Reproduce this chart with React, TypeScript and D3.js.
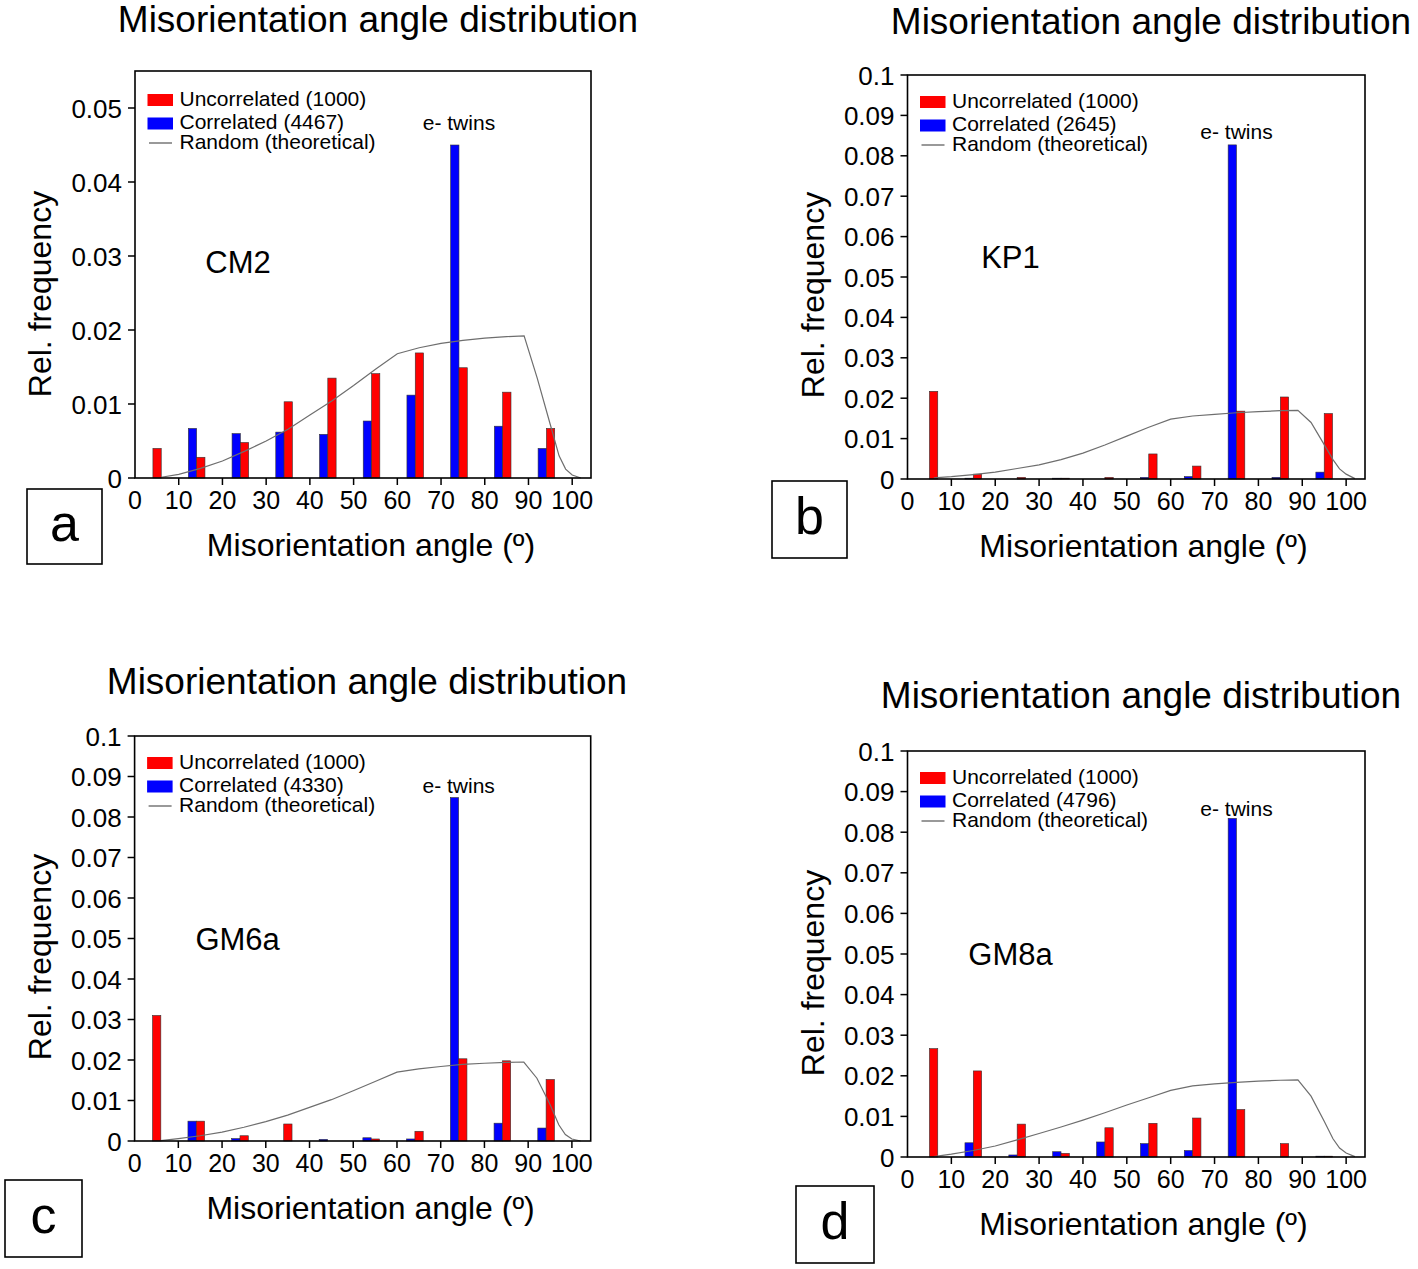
import React from 'react';
import * as d3 from 'd3';

// ---------- data ----------
const binCenters = [5, 15, 25, 35, 45, 55, 65, 75, 85, 95];
const xTickValues = [0, 10, 20, 30, 40, 50, 60, 70, 80, 90, 100];
const yTicksSmall = [0, 0.01, 0.02, 0.03, 0.04, 0.05];
const yTicksLarge = [0, 0.01, 0.02, 0.03, 0.04, 0.05, 0.06, 0.07, 0.08, 0.09, 0.1];

const panelLetters = ['a', 'b', 'c', 'd'];
const sampleNames = ['CM2', 'KP1', 'GM6a', 'GM8a'];
const uncorrelatedCounts = [1000, 1000, 1000, 1000];
const correlatedCounts = [4467, 2645, 4330, 4796];
const yMaxes = [0.055, 0.1, 0.1, 0.1];

const uncorrA = [0.004, 0.0028, 0.0048, 0.0103, 0.0135, 0.0141, 0.0169, 0.0149, 0.0116, 0.0067];
const corrA = [0, 0.0067, 0.006, 0.0062, 0.0059, 0.0077, 0.0112, 0.045, 0.007, 0.004];
const uncorrB = [0.0217, 0.0012, 0.0004, 0.0002, 0.0004, 0.0062, 0.0032, 0.0168, 0.0203, 0.0162];
const corrB = [0, 0.0002, 0, 0.0002, 0, 0.0004, 0.0006, 0.0827, 0.0004, 0.0017];
const uncorrC = [0.031, 0.0049, 0.0013, 0.0042, 0, 0.0005, 0.0024, 0.0203, 0.0198, 0.0152];
const corrC = [0, 0.0049, 0.0006, 0, 0.0004, 0.0008, 0.0005, 0.0848, 0.0044, 0.0032];
const uncorrD = [0.0267, 0.0212, 0.0081, 0.0009, 0.0072, 0.0083, 0.0096, 0.0117, 0.0033, 0.0002];
const corrD = [0, 0.0035, 0.0005, 0.0013, 0.0037, 0.0033, 0.0016, 0.0834, 0, 0.0002];

const randomAngles = [6, 10, 15, 20, 25, 30, 35, 40, 45, 50, 55, 60, 65, 70, 75, 80, 85, 89, 92, 95, 97, 98.5, 100, 102];
const randomA = [0.0001, 0.0005, 0.0013, 0.0023, 0.0036, 0.005, 0.0066, 0.0085, 0.0104, 0.0125, 0.0147, 0.0168, 0.0176, 0.0182, 0.0186, 0.0189, 0.0191, 0.0192, 0.0135, 0.0072, 0.003, 0.0012, 0.0004, 0];
const randomB = [0.0003, 0.0006, 0.0011, 0.0017, 0.0026, 0.0035, 0.0048, 0.0064, 0.0084, 0.0106, 0.0128, 0.0148, 0.0156, 0.016, 0.0164, 0.0167, 0.0169, 0.017, 0.014, 0.0085, 0.0048, 0.0025, 0.0012, 0.0001];
const randomC = [0.0001, 0.0006, 0.0013, 0.0022, 0.0034, 0.0048, 0.0064, 0.0083, 0.0102, 0.0124, 0.0147, 0.017, 0.0178, 0.0184, 0.0189, 0.0192, 0.0194, 0.0195, 0.0155, 0.009, 0.004, 0.0016, 0.0005, 0];
const randomD = [0.0001, 0.0007, 0.0016, 0.0027, 0.0042, 0.0058, 0.0074, 0.0091, 0.0109, 0.0128, 0.0146, 0.0164, 0.0175, 0.018, 0.0184, 0.0187, 0.0189, 0.019, 0.015, 0.0088, 0.0045, 0.0022, 0.001, 0.0001];

const uncorrSeries = [uncorrA, uncorrB, uncorrC, uncorrD];
const corrSeries = [corrA, corrB, corrC, corrD];
const randomSeries = [randomA, randomB, randomC, randomD];
const yTickSets = [yTicksSmall, yTicksLarge, yTicksLarge, yTicksLarge];

// ---------- layout ----------
const layouts = [
  { left: 135, right: 591, top: 71, bottom: 478, titleX: 378, titleY: 32, box: [27, 489, 75, 75], barShift: -0.9, twinGap: 15, sampleY: 202, legendDy: 2 },
  { left: 907.5, right: 1365, top: 75, bottom: 479, titleX: 1151, titleY: 34, box: [772, 481, 75, 77], barShift: 0, twinGap: 6, sampleY: 193, legendDy: 0 },
  { left: 134.6, right: 590.7, top: 736, bottom: 1141, titleX: 367, titleY: 694, box: [5, 1180, 77, 77], barShift: -0.9, twinGap: 4.5, sampleY: 214, legendDy: 0 },
  { left: 907.5, right: 1365, top: 751, bottom: 1157, titleX: 1141, titleY: 708, box: [796, 1186, 78, 77], barShift: 0, twinGap: 2.5, sampleY: 214, legendDy: 0 },
];

const FONT = '"Liberation Sans", Arial, Helvetica, sans-serif';
const RED = '#ff0000';
const BLUE = '#0000ff';
const BAR_W = 1.9;

const fmt = (v: number) => String(+v.toFixed(2));

function Panel({ i }: { i: number }) {
  const L = layouts[i];
  const x = d3.scaleLinear().domain([0, 104.3]).range([L.left, L.right]);
  const y = d3.scaleLinear().domain([0, yMaxes[i]]).range([L.bottom, L.top]);
  const uncorr = uncorrSeries[i];
  const corr = corrSeries[i];
  const rnd = randomSeries[i];
  const line = d3
    .line<number>()
    .x((_, k) => x(randomAngles[k]))
    .y((d) => y(d));
  const maxCorrIdx = d3.maxIndex(corr);
  const twinX = x(binCenters[maxCorrIdx] + L.barShift);
  const twinY = y(corr[maxCorrIdx]) - L.twinGap;
  const [bx, by, bw, bh] = L.box;
  const lt = L.top + L.legendDy;

  return (
    <g>
      <text x={L.titleX} y={L.titleY} fontSize={37} textAnchor="middle" fontFamily={FONT} fill="#000">
        Misorientation angle distribution
      </text>

      {/* bars */}
      {binCenters.map((c, k) => {
        const b0 = c + L.barShift;
        return (
          <g key={k}>
            {corr[k] > 0 && (
              <rect
                x={x(b0 - BAR_W)}
                y={y(corr[k])}
                width={x(b0) - x(b0 - BAR_W)}
                height={L.bottom - y(corr[k])}
                fill={BLUE}
                stroke="#333"
                strokeWidth={0.6}
              />
            )}
            {uncorr[k] > 0 && (
              <rect
                x={x(b0)}
                y={y(uncorr[k])}
                width={x(b0 + BAR_W) - x(b0)}
                height={L.bottom - y(uncorr[k])}
                fill={RED}
                stroke="#333"
                strokeWidth={0.6}
              />
            )}
          </g>
        );
      })}

      {/* random curve */}
      <path d={line(rnd) || ''} fill="none" stroke="#6e6e6e" strokeWidth={1.2} />

      {/* frame */}
      <rect x={L.left} y={L.top} width={L.right - L.left} height={L.bottom - L.top} fill="none" stroke="#000" strokeWidth={1.6} />

      {/* y ticks */}
      {yTickSets[i].map((t) => (
        <g key={t}>
          <line x1={L.left - 7} x2={L.left} y1={y(t)} y2={y(t)} stroke="#000" strokeWidth={1.5} />
          <text x={L.left - 13} y={y(t) + 9.5} fontSize={26} textAnchor="end" fontFamily={FONT} fill="#000">
            {fmt(t)}
          </text>
        </g>
      ))}

      {/* x ticks */}
      {xTickValues.map((t) => (
        <g key={t}>
          {t > 0 && <line x1={x(t)} x2={x(t)} y1={L.bottom} y2={L.bottom + 7} stroke="#000" strokeWidth={1.5} />}
          <text x={x(t)} y={L.bottom + 31} fontSize={25} textAnchor="middle" fontFamily={FONT} fill="#000">
            {t}
          </text>
        </g>
      ))}

      {/* axis labels */}
      <text x={L.left + 236} y={L.bottom + 78} fontSize={32} textAnchor="middle" fontFamily={FONT} fill="#000">
        Misorientation angle (º)
      </text>
      <text
        transform={`translate(${L.left - 84},${L.bottom - 184}) rotate(-90)`}
        fontSize={32}
        textAnchor="middle"
        fontFamily={FONT}
        fill="#000"
      >
        Rel. frequency
      </text>

      {/* legend */}
      <rect x={L.left + 12.5} y={lt + 21} width={25.5} height={12} fill={RED} />
      <text x={L.left + 44.5} y={lt + 33} fontSize={21} fontFamily={FONT} fill="#000">
        {`Uncorrelated (${uncorrelatedCounts[i]})`}
      </text>
      <rect x={L.left + 12.5} y={lt + 44.5} width={25.5} height={12} fill={BLUE} />
      <text x={L.left + 44.5} y={lt + 56} fontSize={21} fontFamily={FONT} fill="#000">
        {`Correlated (${correlatedCounts[i]})`}
      </text>
      <line x1={L.left + 14} x2={L.left + 37} y1={lt + 70} y2={lt + 70} stroke="#555" strokeWidth={1.2} />
      <text x={L.left + 44.5} y={lt + 76} fontSize={21} fontFamily={FONT} fill="#000">
        Random (theoretical)
      </text>

      {/* e- twins */}
      <text x={twinX} y={twinY} fontSize={21} textAnchor="middle" fontFamily={FONT} fill="#000">
        e- twins
      </text>

      {/* sample */}
      <text x={L.left + 103} y={L.top + L.sampleY} fontSize={31} textAnchor="middle" fontFamily={FONT} fill="#000">
        {sampleNames[i]}
      </text>

      {/* panel letter */}
      <rect x={bx} y={by} width={bw} height={bh} fill="#fff" stroke="#000" strokeWidth={1.6} />
      <text x={bx + bw / 2} y={by + bh / 2 + 14} fontSize={52} textAnchor="middle" fontFamily={FONT} fill="#000">
        {panelLetters[i]}
      </text>
    </g>
  );
}

export default function App() {
  return (
    <svg
      width={1418}
      height={1269}
      viewBox="0 0 1418 1269"
      style={{ position: 'absolute', left: 0, top: 0, background: '#fff' }}
    >
      <rect x={0} y={0} width={1418} height={1269} fill="#fff" />
      {layouts.map((_, i) => (
        <Panel key={i} i={i} />
      ))}
    </svg>
  );
}
